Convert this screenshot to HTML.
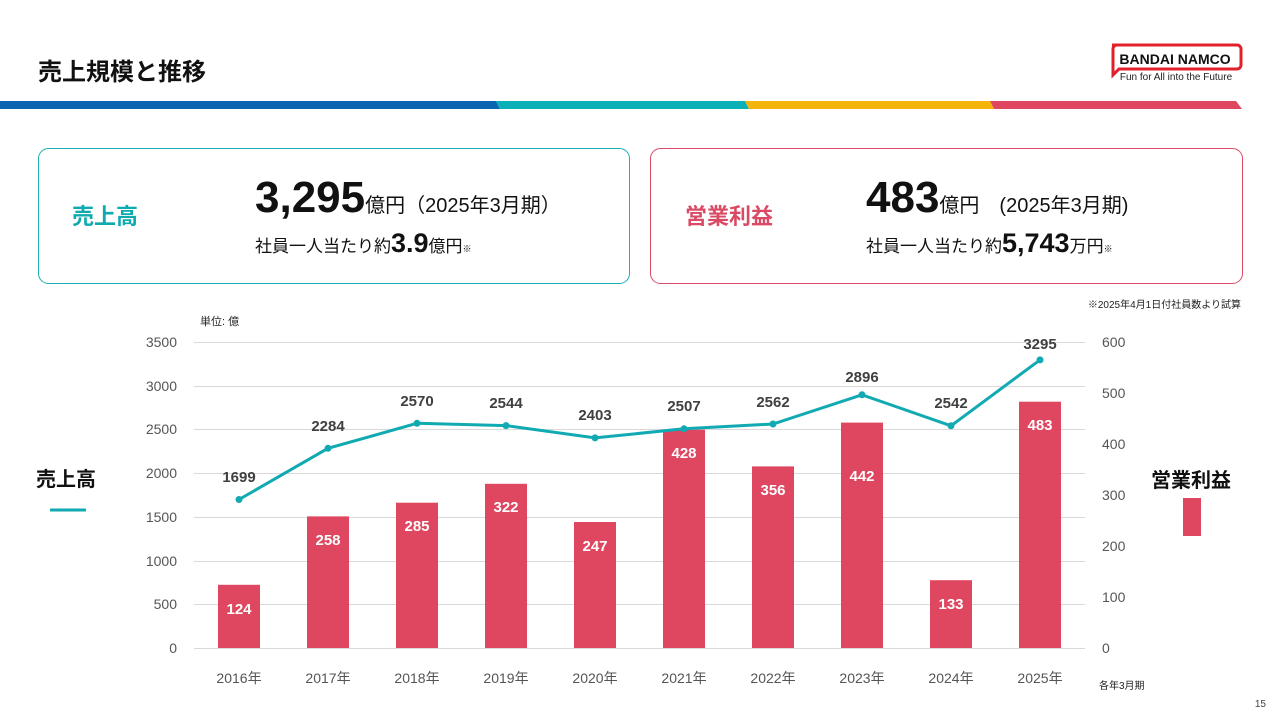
<!DOCTYPE html>
<html><head><meta charset="utf-8"><style>
body{margin:0;width:1280px;height:720px;background:#fff;overflow:hidden;font-family:"Liberation Sans","Noto Sans CJK JP",sans-serif;}
</style></head><body>
<svg width="1280" height="720" xmlns="http://www.w3.org/2000/svg" font-family="Liberation Sans, Noto Sans CJK JP, sans-serif">
<text x="38" y="80" font-size="24" font-weight="bold" fill="#111">売上規模と推移</text>
<path d="M1112 45 h125 a4 4 0 0 1 4 4 v16 a4 4 0 0 1 -4 4 h-118 l-6 6 v-26 a4 4 0 0 1 4 -4z" fill="none" stroke="#e0202a" stroke-width="3"/>
<text x="1175" y="64" font-size="14" font-weight="bold" text-anchor="middle" fill="#111">BANDAI NAMCO</text>
<text x="1176" y="80" font-size="10" text-anchor="middle" fill="#222">Fun for All into the Future</text>
<polygon points="0,101 496,101 500,109 0,109" fill="#0a64b0"/>
<polygon points="496,101 745,101 749,109 500,109" fill="#0bb0b6"/>
<polygon points="745,101 990,101 994,109 749,109" fill="#f5b40a"/>
<polygon points="990,101 1236,101 1242,109 994,109" fill="#df4760"/>
<rect x="38.5" y="148.5" width="591" height="135" rx="10" fill="none" stroke="#1ab0b4"/>
<rect x="650.5" y="148.5" width="592" height="135" rx="10" fill="none" stroke="#d94b65"/>
<text x="72" y="224" font-size="22" font-weight="bold" fill="#0fa9b0">売上高</text>
<text x="255" y="212" fill="#111"><tspan font-size="44" font-weight="bold">3,295</tspan><tspan font-size="20">億円（2025年3月期）</tspan></text>
<text x="255" y="252" fill="#111"><tspan font-size="17">社員一人当たり約</tspan><tspan font-size="27" font-weight="bold">3.9</tspan><tspan font-size="17">億円</tspan><tspan font-size="9">※</tspan></text>
<text x="685" y="224" font-size="22" font-weight="bold" fill="#d94b65">営業利益</text>
<text x="866" y="212" fill="#111"><tspan font-size="44" font-weight="bold">483</tspan><tspan font-size="20">億円　(2025年3月期)</tspan></text>
<text x="866" y="252" fill="#111"><tspan font-size="17">社員一人当たり約</tspan><tspan font-size="27" font-weight="bold">5,743</tspan><tspan font-size="17">万円</tspan><tspan font-size="9">※</tspan></text>
<text x="1241" y="308" font-size="10" text-anchor="end" fill="#222">※2025年4月1日付社員数より試算</text>
<text x="200" y="325" font-size="11" fill="#222">単位: 億</text>
<g stroke="#d9d9d9" stroke-width="1">
<line x1="194" x2="1085" y1="342.5" y2="342.5"/><line x1="194" x2="1085" y1="386.5" y2="386.5"/>
<line x1="194" x2="1085" y1="429.5" y2="429.5"/><line x1="194" x2="1085" y1="473.5" y2="473.5"/>
<line x1="194" x2="1085" y1="517.5" y2="517.5"/><line x1="194" x2="1085" y1="561.5" y2="561.5"/>
<line x1="194" x2="1085" y1="604.5" y2="604.5"/><line x1="194" x2="1085" y1="648.5" y2="648.5"/>
</g>
<g font-size="14" fill="#555" text-anchor="end">
<text x="177" y="347">3500</text><text x="177" y="391">3000</text><text x="177" y="434">2500</text><text x="177" y="478">2000</text>
<text x="177" y="522">1500</text><text x="177" y="566">1000</text><text x="177" y="609">500</text><text x="177" y="653">0</text>
</g>
<g font-size="14" fill="#555" text-anchor="start">
<text x="1102" y="347">600</text><text x="1102" y="398">500</text><text x="1102" y="449">400</text><text x="1102" y="500">300</text>
<text x="1102" y="551">200</text><text x="1102" y="602">100</text><text x="1102" y="653">0</text>
</g>
<g fill="#df4760">
<rect x="218" y="584.8" width="42" height="63.2"/>
<rect x="307" y="516.4" width="42" height="131.6"/>
<rect x="396" y="502.7" width="42" height="145.3"/>
<rect x="485" y="483.8" width="42" height="164.2"/>
<rect x="574" y="522.0" width="42" height="126"/>
<rect x="663" y="429.7" width="42" height="218.3"/>
<rect x="752" y="466.4" width="42" height="181.6"/>
<rect x="841" y="422.6" width="42" height="225.4"/>
<rect x="930" y="580.2" width="42" height="67.8"/>
<rect x="1019" y="401.7" width="42" height="246.3"/>
</g>
<g font-size="15" font-weight="bold" fill="#fff" text-anchor="middle">
<text x="239" y="614">124</text><text x="328" y="545">258</text><text x="417" y="531">285</text><text x="506" y="512">322</text>
<text x="595" y="551">247</text><text x="684" y="458">428</text><text x="773" y="495">356</text><text x="862" y="481">442</text>
<text x="951" y="609">133</text><text x="1040" y="430">483</text>
</g>
<polyline fill="none" stroke="#11aab2" stroke-width="3" points="239,499.5 328,448.3 417,423.3 506,425.6 595,437.9 684,428.8 773,424.0 862,394.8 951,425.8 1040,359.9"/>
<g fill="#11aab2">
<circle cx="239" cy="499.5" r="3.5"/><circle cx="328" cy="448.3" r="3.5"/><circle cx="417" cy="423.3" r="3.5"/><circle cx="506" cy="425.6" r="3.5"/><circle cx="595" cy="437.9" r="3.5"/>
<circle cx="684" cy="428.8" r="3.5"/><circle cx="773" cy="424.0" r="3.5"/><circle cx="862" cy="394.8" r="3.5"/><circle cx="951" cy="425.8" r="3.5"/><circle cx="1040" cy="359.9" r="3.5"/>
</g>
<g font-size="15" font-weight="bold" fill="#404040" text-anchor="middle">
<text x="239" y="482">1699</text><text x="328" y="431">2284</text><text x="417" y="406">2570</text><text x="506" y="408">2544</text><text x="595" y="420">2403</text>
<text x="684" y="411">2507</text><text x="773" y="407">2562</text><text x="862" y="382">2896</text><text x="951" y="408">2542</text><text x="1040" y="349">3295</text>
</g>
<g font-size="14" fill="#555" text-anchor="middle">
<text x="239" y="683">2016年</text><text x="328" y="683">2017年</text><text x="417" y="683">2018年</text><text x="506" y="683">2019年</text><text x="595" y="683">2020年</text>
<text x="684" y="683">2021年</text><text x="773" y="683">2022年</text><text x="862" y="683">2023年</text><text x="951" y="683">2024年</text><text x="1040" y="683">2025年</text>
</g>
<text x="1099" y="689" font-size="10" fill="#222">各年3月期</text>
<text x="36" y="486" font-size="20" font-weight="bold" fill="#111">売上高</text>
<line x1="50" x2="86" y1="510" y2="510" stroke="#11aab2" stroke-width="3"/>
<text x="1151" y="487" font-size="20" font-weight="bold" fill="#111">営業利益</text>
<rect x="1183" y="498" width="18" height="38" fill="#df4760"/>
<text x="1266" y="707" font-size="10" text-anchor="end" fill="#444">15</text>
</svg>
</body></html>
